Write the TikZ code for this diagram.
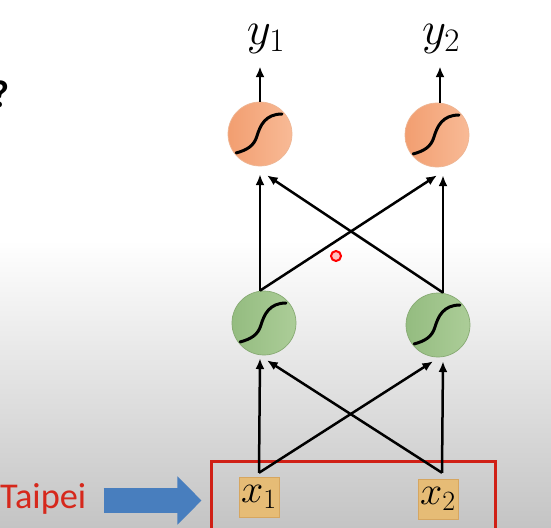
\RequirePackage{fix-cm}
\documentclass[tikz,border=0pt]{standalone}
\usepackage{fontspec}
\newfontfamily\labelfont{Carlito}
\usetikzlibrary{arrows.meta,positioning,calc}

\definecolor{outfill}{RGB}{242,158,112}
\definecolor{outfillb}{RGB}{248,186,150}
\definecolor{outdraw}{RGB}{238,182,148}
\definecolor{hidfill}{RGB}{148,188,128}
\definecolor{hidfillb}{RGB}{172,205,152}
\definecolor{hiddraw}{RGB}{135,170,115}
\definecolor{infill}{RGB}{230,188,118}
\definecolor{indraw}{RGB}{214,166,96}
\definecolor{framered}{RGB}{208,32,22}
\definecolor{textred}{RGB}{214,40,28}
\definecolor{arrowblue}{RGB}{72,126,190}
\definecolor{bggray}{RGB}{196,196,196}

\begin{document}
\begin{tikzpicture}[x=0.03cm, y=-0.03cm,
    neuron/.style={circle, minimum size=1.92cm, inner sep=0pt, line width=0.6pt,
        path picture={\begin{scope}[shift={(path picture bounding box.center)}]
            \draw[black, line width=0.09cm, line cap=round] (-24,19) .. controls (-13,16) and (-6,12) .. (-3,2) .. controls (0,-8) and (5,-20) .. (22,-20);
        \end{scope}}},
    outunit/.style={neuron, draw=outdraw, left color=outfill, right color=outfillb},
    hidunit/.style={neuron, draw=hiddraw, left color=hidfill, right color=hidfillb},
    inunit/.style={draw=indraw, fill=infill, minimum size=1.2cm, inner sep=0pt, font=\fontsize{34}{40}\selectfont},
    lbl/.style={font=\fontsize{40}{48}\selectfont, inner sep=1pt},
    arr/.style={-{Latex[length=0.32cm,width=0.27cm]}, line width=0.075cm},
    bigarrow/.style={-{Triangle[length=0.72cm,width=1.41cm]}, line width=0.75cm, draw=arrowblue}
]
% background
\fill[white] (0,0) rectangle (551,528);
\shade[top color=white, bottom color=bggray] (0,240) rectangle (551,528);
\useasboundingbox (0,0) rectangle (551,528);

% units
\node[outunit] (o1) at (260,134) {};
\node[outunit] (o2) at (437,135) {};
\node[hidunit] (h1) at (264,323) {};
\node[hidunit] (h2) at (438,325) {};
\node[inunit] (x1) at (259,497) {$x_1$};
\node[inunit] (x2) at (438,499) {$x_2$};
\node[lbl, anchor=base] (y1) at (266,44) {$y_1$};
\node[lbl, anchor=base] (y2) at (441,44) {$y_2$};

\node[draw=framered, line width=0.09cm, minimum width=8.49cm, minimum height=2.37cm] (frame) at (353.5,500.5) {};
\node[font=\labelfont\fontsize{31}{38}\selectfont, text=textred, anchor=base west, inner sep=0pt] (city) at (0,508) {Taipei};
\node[font=\labelfont\bfseries\fontsize{33}{40}\selectfont, anchor=base east, inner sep=0pt] (query) at (10,107) {?};
\node[circle, draw=red, fill=red!25, line width=0.06cm, minimum size=0.3cm, inner sep=0pt] (pointer) at (336,256) {};

% outputs
\draw[arr, shorten >=0.36cm] (o1.north) -- (o1.north |- y1.south);
\draw[arr, shorten >=0.36cm] ([xshift=0.09cm]o2.north) -- ([xshift=0.09cm]o2.north |- y2.south);

% hidden -> output
\draw[arr] ([xshift=-0.12cm]h1.north) -- ([yshift=-0.24cm]o1.south);
\draw[arr] ([xshift=-0.12cm]h1.north) -- ([yshift=-0.24cm]o2.south);
\draw[arr] ([xshift=0.15cm]h2.north) -- ([xshift=0.21cm, yshift=-0.27cm]o1.south);
\draw[arr] ([xshift=0.15cm]h2.north) -- ([xshift=0.18cm, yshift=-0.24cm]o2.south);

% input -> hidden
\draw[arr] ([yshift=0.12cm]x1.north) -- ([xshift=-0.12cm, yshift=-0.09cm]h1.south);
\draw[arr] ([yshift=0.12cm]x1.north) -- ([xshift=-0.15cm, yshift=-0.12cm]h2.south);
\draw[arr] ([xshift=0.12cm, yshift=0.18cm]x2.north) -- ([xshift=0.09cm, yshift=-0.15cm]h1.south);
\draw[arr] ([xshift=0.12cm, yshift=0.18cm]x2.north) -- ([xshift=0.15cm, yshift=-0.12cm]h2.south);

% query arrow
\draw[bigarrow] ([xshift=0.51cm]city.east |- frame.west) -- ([xshift=-0.27cm]frame.west);
\end{tikzpicture}
\end{document}
